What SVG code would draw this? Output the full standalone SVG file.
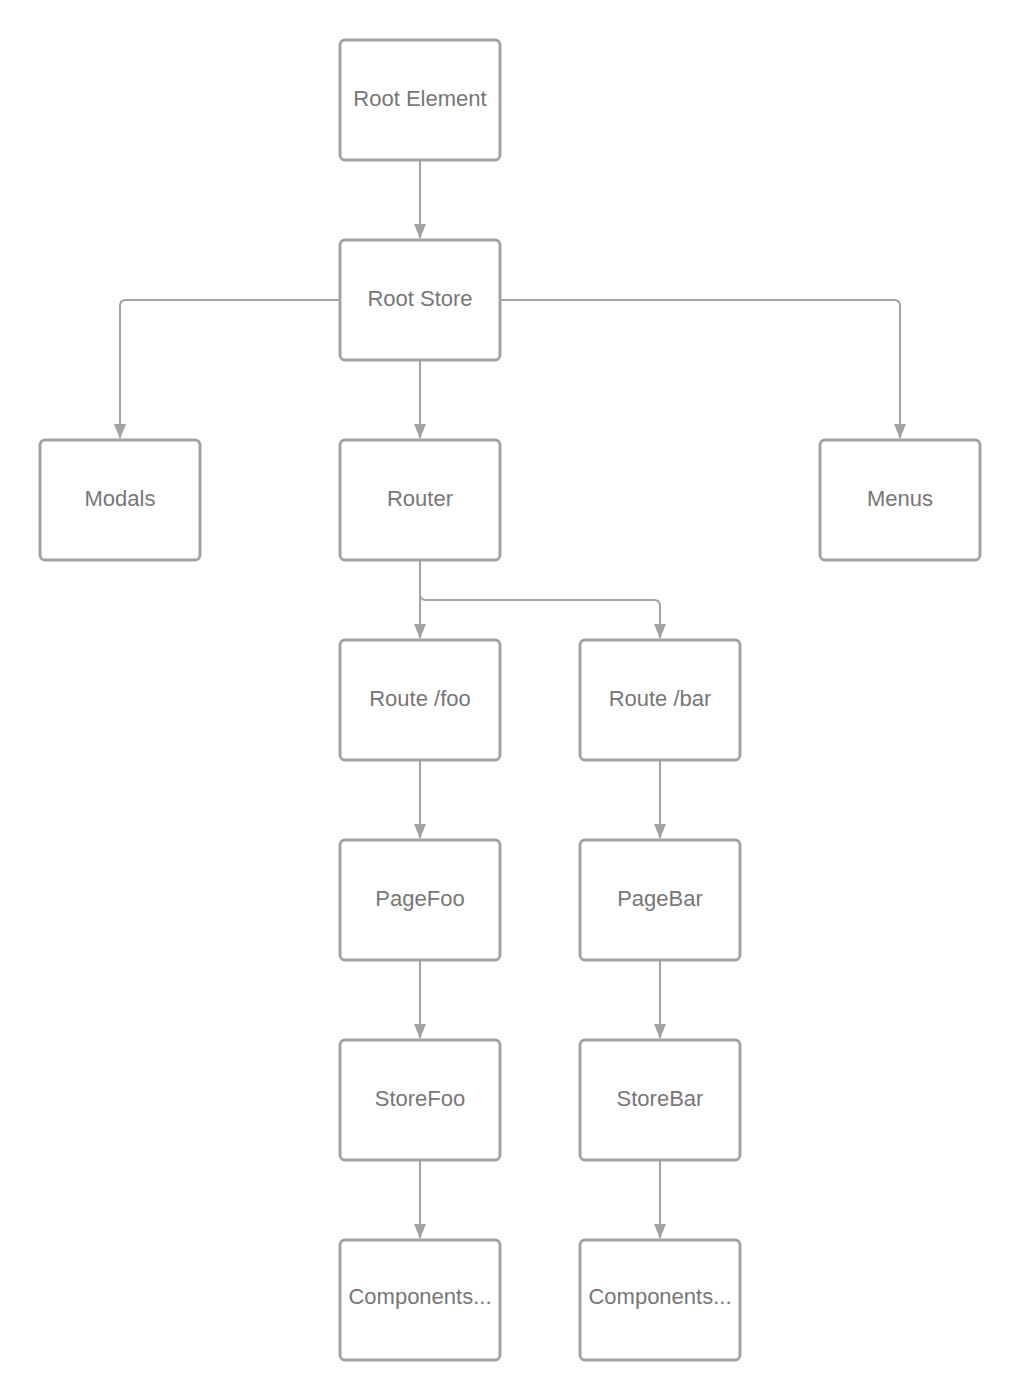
<svg xmlns="http://www.w3.org/2000/svg" width="1020" height="1400" viewBox="0 0 1020 1400">
<style>
.box{fill:#ffffff;stroke:#a3a3a3;stroke-width:3}
.lbl{font-family:"Liberation Sans",Arial,sans-serif;font-size:22px;fill:#777777;text-anchor:middle}
.edge{fill:none;stroke:#a3a3a3;stroke-width:2;marker-end:url(#ah)}
</style>
<defs>
<marker id="ah" viewBox="0 0 15 12" refX="14" refY="6" markerWidth="15" markerHeight="12" markerUnits="userSpaceOnUse" orient="auto">
<path d="M0,0 L15,6 L0,12 Z" fill="#a3a3a3"/>
</marker>
</defs>
<rect width="1020" height="1400" fill="#ffffff"/>
<g id="connectors">
<path class="edge" d="M420,161 V238"/>
<path class="edge" d="M339,300 H126 Q120,300 120,306 V438"/>
<path class="edge" d="M501,300 H894 Q900,300 900,306 V438"/>
<path class="edge" d="M420,361 V438"/>
<path class="edge" d="M420,561 V638"/>
<path class="edge" d="M420,561 V594 Q420,600 426,600 H654 Q660,600 660,606 V638"/>
<path class="edge" d="M420,761 V838"/>
<path class="edge" d="M660,761 V838"/>
<path class="edge" d="M420,961 V1038"/>
<path class="edge" d="M660,961 V1038"/>
<path class="edge" d="M420,1161 V1238"/>
<path class="edge" d="M660,1161 V1238"/>
</g>
<g id="root-element"><rect class="box" x="340" y="40" width="160" height="120" rx="5"/><text class="lbl" x="420" y="106">Root Element</text></g>
<g id="root-store"><rect class="box" x="340" y="240" width="160" height="120" rx="5"/><text class="lbl" x="420" y="306">Root Store</text></g>
<g id="modals"><rect class="box" x="40" y="440" width="160" height="120" rx="5"/><text class="lbl" x="120" y="506">Modals</text></g>
<g id="router"><rect class="box" x="340" y="440" width="160" height="120" rx="5"/><text class="lbl" x="420" y="506">Router</text></g>
<g id="menus"><rect class="box" x="820" y="440" width="160" height="120" rx="5"/><text class="lbl" x="900" y="506">Menus</text></g>
<g id="route-foo"><rect class="box" x="340" y="640" width="160" height="120" rx="5"/><text class="lbl" x="420" y="706">Route /foo</text></g>
<g id="route-bar"><rect class="box" x="580" y="640" width="160" height="120" rx="5"/><text class="lbl" x="660" y="706">Route /bar</text></g>
<g id="page-foo"><rect class="box" x="340" y="840" width="160" height="120" rx="5"/><text class="lbl" x="420" y="906">PageFoo</text></g>
<g id="page-bar"><rect class="box" x="580" y="840" width="160" height="120" rx="5"/><text class="lbl" x="660" y="906">PageBar</text></g>
<g id="store-foo"><rect class="box" x="340" y="1040" width="160" height="120" rx="5"/><text class="lbl" x="420" y="1106">StoreFoo</text></g>
<g id="store-bar"><rect class="box" x="580" y="1040" width="160" height="120" rx="5"/><text class="lbl" x="660" y="1106">StoreBar</text></g>
<g id="components-foo"><rect class="box" x="340" y="1240" width="160" height="120" rx="5"/><text class="lbl" x="420" y="1304">Components...</text></g>
<g id="components-bar"><rect class="box" x="580" y="1240" width="160" height="120" rx="5"/><text class="lbl" x="660" y="1304">Components...</text></g>
</svg>
